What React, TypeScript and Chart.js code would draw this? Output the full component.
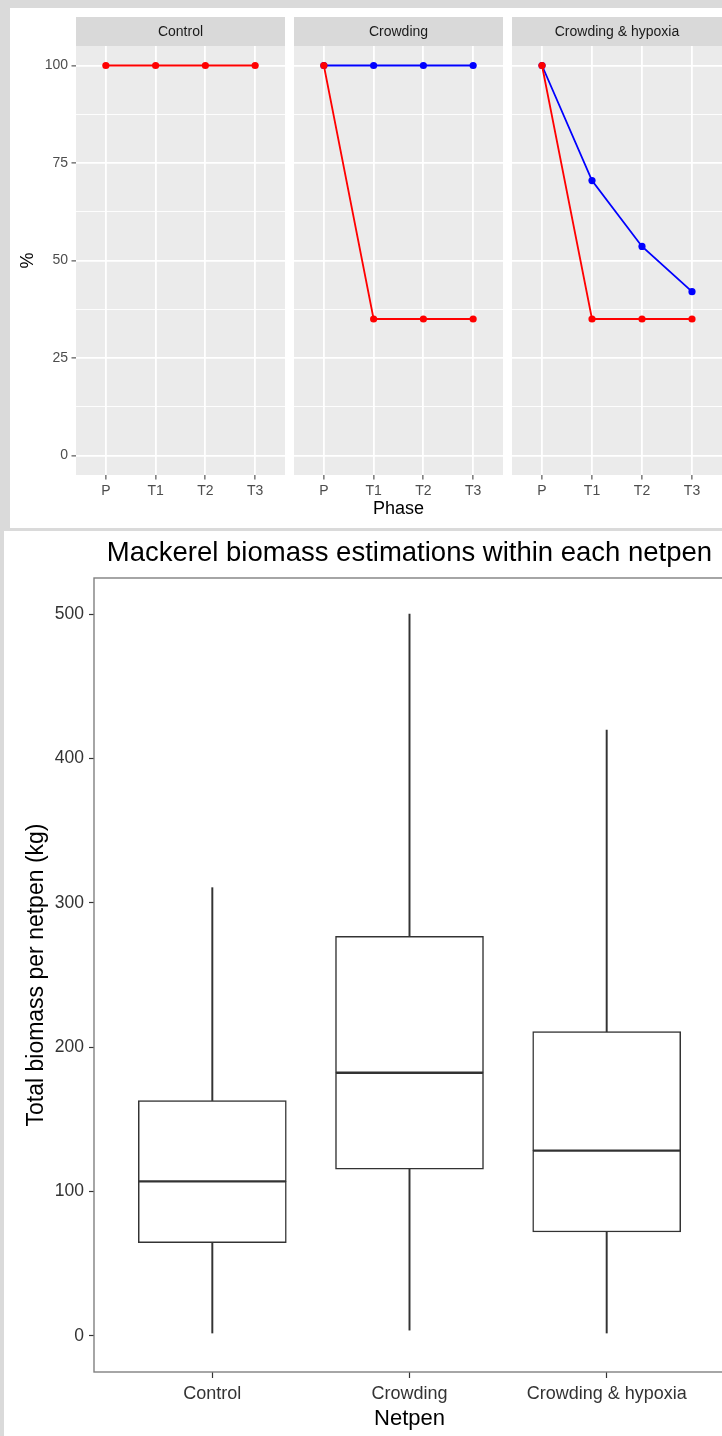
import React, { useEffect, useRef } from 'react';
import { Chart, registerables } from 'chart.js';

Chart.register(...registerables);

const FONT = '"Liberation Sans", Arial, Helvetica, sans-serif';

// ---------- Top figure data (faceted line chart) ----------
const phases = ['P', 'T1', 'T2', 'T3'];
const facets = ['Control', 'Crowding', 'Crowding & hypoxia'];
const redControl = [100, 100, 100, 100];
const blueControl: number[] = []; // no visible blue series in the Control panel
const redCrowding = [100, 35, 35, 35];
const blueCrowding = [100, 100, 100, 100];
const redCrowdingHypoxia = [100, 35, 35, 35];
const blueCrowdingHypoxia = [100, 70.5, 53.6, 42];
const pctMajorTicks = [0, 25, 50, 75, 100];
const pctMinorTicks = [12.5, 37.5, 62.5, 87.5];

// ---------- Bottom figure data (boxplot) ----------
const netpens = ['Control', 'Crowding', 'Crowding & hypoxia'];
const whiskerLow = [2, 4, 2];
const quartile1 = [64.5, 115.5, 72];
const medians = [107, 182.3, 128.3];
const quartile3 = [163, 276.7, 210.8];
const whiskerHigh = [310.5, 500, 419.6];
const biomassTicks = [0, 100, 200, 300, 400, 500];

const STRIP_H = 29;

function facetPanelPlugin(stripText: string) {
  return {
    id: 'facetPanel',
    beforeDraw(chart: any) {
      const { ctx, chartArea: a } = chart;
      ctx.save();
      ctx.fillStyle = '#ebebeb';
      ctx.fillRect(a.left, a.top, a.right - a.left, a.bottom - a.top);
      ctx.fillStyle = '#d9d9d9';
      ctx.fillRect(a.left, a.top - STRIP_H, a.right - a.left, STRIP_H);
      ctx.fillStyle = '#1a1a1a';
      ctx.font = `14px ${FONT}`;
      ctx.textAlign = 'center';
      ctx.textBaseline = 'middle';
      ctx.fillText(stripText, (a.left + a.right) / 2, a.top - STRIP_H / 2 + 1);
      ctx.restore();
    },
  };
}

const boxBorderPlugin = {
  id: 'boxBorder',
  afterDatasetsDraw(chart: any) {
    const { ctx, chartArea: a } = chart;
    ctx.save();
    ctx.strokeStyle = '#808080';
    ctx.lineWidth = 1.4;
    ctx.strokeRect(a.left, a.top, a.right - a.left, a.bottom - a.top);
    ctx.restore();
  },
};

function facetConfig(index: number, red: number[], blue: number[]): any {
  const first = index === 0;
  const middle = index === 1;
  const allPct = [...pctMajorTicks, ...pctMinorTicks].sort((a, b) => a - b);
  const isMajor = (v: number) => pctMajorTicks.includes(v);
  return {
    type: 'line',
    data: {
      datasets: [
        {
          label: 'red',
          data: red.map((v, j) => ({ x: j, y: v })),
          borderColor: '#ff0000',
          backgroundColor: '#ff0000',
          pointBackgroundColor: '#ff0000',
          pointBorderWidth: 0,
          pointRadius: 3.6,
          borderWidth: 1.8,
          tension: 0,
          clip: false,
        },
        {
          label: 'blue',
          data: blue.map((v, j) => ({ x: j, y: v })),
          borderColor: '#0000ff',
          backgroundColor: '#0000ff',
          pointBackgroundColor: '#0000ff',
          pointBorderWidth: 0,
          pointRadius: 3.6,
          borderWidth: 1.8,
          tension: 0,
          clip: false,
        },
      ],
    },
    plugins: [facetPanelPlugin(facets[index])],
    options: {
      animation: false,
      responsive: true,
      maintainAspectRatio: false,
      layout: { autoPadding: false, padding: { top: STRIP_H, left: 0, right: 0, bottom: 0 } },
      plugins: { legend: { display: false }, tooltip: { enabled: false }, title: { display: false } },
      scales: {
        x: {
          type: 'linear',
          min: -0.6,
          max: 3.6,
          offset: false,
          afterBuildTicks: (s: any) => {
            s.ticks = phases.map((_, j) => ({ value: j }));
          },
          afterFit: (s: any) => {
            s.height = 53;
          },
          ticks: {
            autoSkip: false,
            maxRotation: 0,
            padding: 3,
            color: '#4d4d4d',
            font: { family: FONT, size: 14 },
            callback: (v: any) => phases[v],
          },
          grid: { color: '#ffffff', lineWidth: 1.8, tickLength: 4.5, tickColor: '#333333', tickWidth: 1 },
          border: { display: false },
          title: middle
            ? { display: true, text: 'Phase', color: '#000000', font: { family: FONT, size: 18 }, padding: { top: 0, bottom: 8 } }
            : { display: false },
        },
        y: {
          type: 'linear',
          min: -5,
          max: 105,
          afterBuildTicks: (s: any) => {
            s.ticks = allPct.map((v) => ({ value: v }));
          },
          afterFit: (s: any) => {
            s.width = first ? 66 : 0;
          },
          ticks: {
            display: first,
            autoSkip: false,
            padding: 3.5,
            color: '#4d4d4d',
            font: { family: FONT, size: 14 },
            callback: (v: any) => (isMajor(v) ? String(v) : ''),
          },
          grid: {
            color: '#ffffff',
            lineWidth: (c: any) => (c.tick && isMajor(c.tick.value) ? 1.8 : 0.9),
            drawTicks: first,
            tickLength: 4.5,
            tickWidth: 1,
            tickColor: (c: any) => (c.tick && isMajor(c.tick.value) ? '#333333' : 'rgba(0,0,0,0)'),
          },
          border: { display: false },
          title: first
            ? { display: true, text: '%', color: '#000000', font: { family: FONT, size: 18 }, padding: { top: 7, bottom: 0 } }
            : { display: false },
        },
      },
    },
  };
}

function boxplotConfig(): any {
  const boxCommon = {
    backgroundColor: '#ffffff',
    borderColor: '#333333',
    borderWidth: 1.5,
    borderSkipped: false,
    barThickness: 148,
    grouped: false,
  };
  const whiskerCommon = {
    backgroundColor: '#333333',
    borderWidth: 0,
    barThickness: 1.3,
    grouped: false,
  };
  return {
    type: 'bar',
    data: {
      datasets: [
        { label: 'lower box', data: netpens.map((_, i) => ({ x: i, y: [quartile1[i], medians[i]] })), ...boxCommon },
        { label: 'upper box', data: netpens.map((_, i) => ({ x: i, y: [medians[i], quartile3[i]] })), ...boxCommon },
        { label: 'lower whisker', data: netpens.map((_, i) => ({ x: i, y: [whiskerLow[i], quartile1[i]] })), ...whiskerCommon },
        { label: 'upper whisker', data: netpens.map((_, i) => ({ x: i, y: [quartile3[i], whiskerHigh[i]] })), ...whiskerCommon },
      ],
    },
    plugins: [boxBorderPlugin],
    options: {
      animation: false,
      responsive: true,
      maintainAspectRatio: false,
      layout: { autoPadding: false, padding: { top: 0, left: 0, right: 0, bottom: 0 } },
      plugins: {
        legend: { display: false },
        tooltip: { enabled: false },
        title: {
          display: true,
          fullSize: false,
          text: 'Mackerel biomass estimations within each netpen',
          color: '#000000',
          font: { family: FONT, size: 27.5, weight: 'normal' },
          padding: { top: 6, bottom: 8 },
        },
      },
      scales: {
        x: {
          type: 'linear',
          min: -0.6,
          max: 2.6,
          offset: false,
          afterBuildTicks: (s: any) => {
            s.ticks = netpens.map((_, j) => ({ value: j }));
          },
          afterFit: (s: any) => {
            s.height = 64;
          },
          ticks: {
            autoSkip: false,
            maxRotation: 0,
            padding: 5,
            color: '#333333',
            font: { family: FONT, size: 18 },
            callback: (v: any) => netpens[v],
          },
          grid: { offset: false, drawOnChartArea: false, tickLength: 6, tickColor: '#333333', tickWidth: 1.2 },
          border: { display: false },
          title: { display: true, text: 'Netpen', color: '#000000', font: { family: FONT, size: 22 }, padding: { top: 0, bottom: 4 } },
        },
        y: {
          type: 'linear',
          min: -25,
          max: 525,
          afterBuildTicks: (s: any) => {
            s.ticks = biomassTicks.map((v) => ({ value: v }));
          },
          afterFit: (s: any) => {
            s.width = 90;
          },
          ticks: {
            autoSkip: false,
            padding: 5,
            color: '#333333',
            font: { family: FONT, size: 17.5 },
          },
          grid: { drawOnChartArea: false, tickLength: 5, tickColor: '#333333', tickWidth: 1.2 },
          border: { display: false },
          title: {
            display: true,
            text: 'Total biomass per netpen (kg)',
            color: '#000000',
            font: { family: FONT, size: 23 },
            padding: { top: 19, bottom: 0 },
          },
        },
      },
    },
  };
}

function ChartBox({ make, left, top, width, height }: { make: () => any; left: number; top: number; width: number; height: number }) {
  const ref = useRef<HTMLCanvasElement>(null);
  useEffect(() => {
    const chart = new Chart(ref.current as HTMLCanvasElement, make());
    return () => chart.destroy();
  }, []);
  return (
    <div style={{ position: 'absolute', left, top, width, height }}>
      <canvas ref={ref} />
    </div>
  );
}

export default function App() {
  return (
    <div
      style={{
        position: 'absolute',
        left: 0,
        top: 0,
        width: 722,
        height: 1436,
        background: '#dadada',
        overflow: 'hidden',
      }}
    >
      <div style={{ position: 'absolute', left: 10, top: 8, width: 712, height: 520, background: '#ffffff' }} />
      <div style={{ position: 'absolute', left: 4, top: 531, width: 718, height: 905, background: '#ffffff' }} />
      <ChartBox make={() => facetConfig(0, redControl, blueControl)} left={10} top={17} width={275} height={511} />
      <ChartBox make={() => facetConfig(1, redCrowding, blueCrowding)} left={294} top={17} width={209} height={511} />
      <ChartBox make={() => facetConfig(2, redCrowdingHypoxia, blueCrowdingHypoxia)} left={512} top={17} width={210} height={511} />
      <ChartBox make={boxplotConfig} left={4} top={531} width={721} height={905} />
    </div>
  );
}
